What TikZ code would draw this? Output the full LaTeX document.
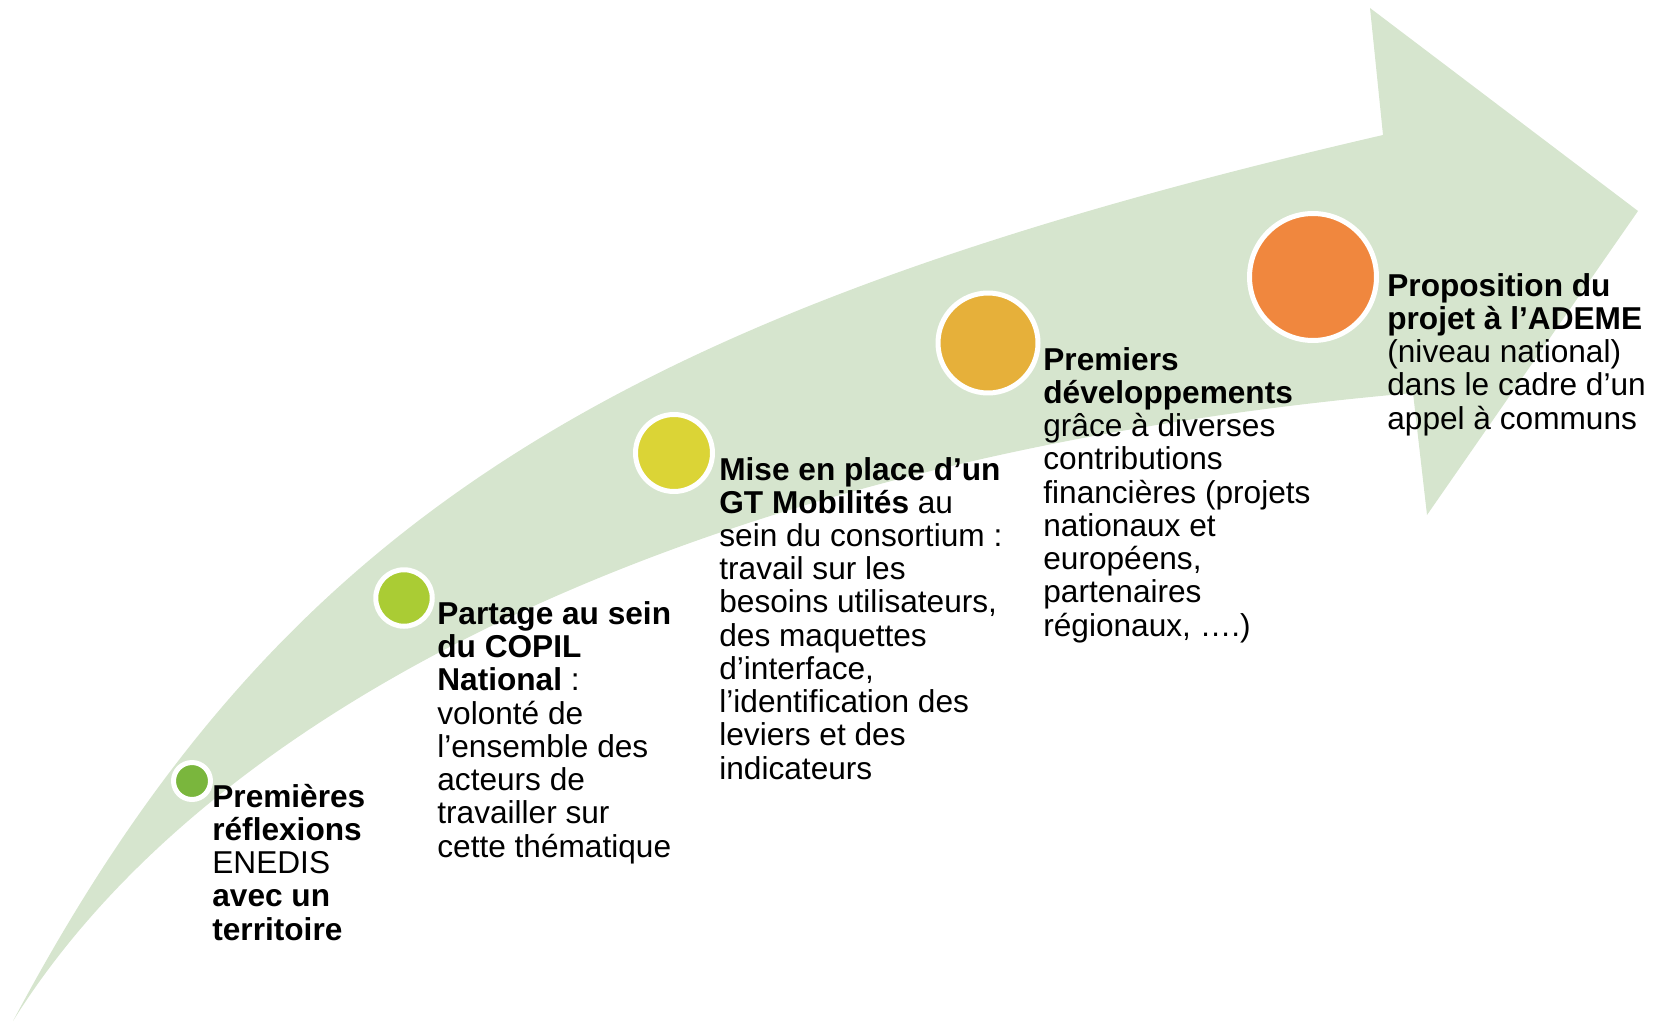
\documentclass[tikz,border=0pt]{standalone}
\usepackage{fontspec}
\setmainfont{Liberation Sans}
\usepackage{xcolor}
\definecolor{ArrowBg}{RGB}{214, 229, 206}
\definecolor{StepA}{RGB}{122, 182, 61}
\definecolor{StepB}{RGB}{170, 204, 52}
\definecolor{StepC}{RGB}{219, 212, 54}
\definecolor{StepD}{RGB}{230, 176, 58}
\definecolor{StepE}{RGB}{240, 135, 62}

\begin{document}
\begin{tikzpicture}[x=0.02cm, y=-0.02cm,
            milestone/.style={circle, draw=white, line width=0.1cm, inner sep=0pt},
            caption/.style={anchor=base west, align=left, inner sep=0pt, font=\fontsize{18}{18.9}\selectfont}
        ]
            \useasboundingbox (0,0) rectangle (1660,1024);
            % curved arrow
            \fill[ArrowBg] (13,1021) .. controls (276,527) and (604,315) .. (1383,135)
                -- (1370,8) -- (1638,211) -- (1427,515) -- (1413,393)
                .. controls (716,454) and (214,699) .. (13,1021) -- cycle;
            % milestones
            \node[milestone, fill=StepA, minimum size=0.74cm] (c1) at (192,781) {};
            \node[milestone, fill=StepB, minimum size=1.13cm] (c2) at (404,598) {};
            \node[milestone, fill=StepC, minimum size=1.54cm] (c3) at (674,453) {};
            \node[milestone, fill=StepD, minimum size=2.0cm] (c4) at (988,343) {};
            \node[milestone, fill=StepE, minimum size=2.54cm] (c5) at (1313,277) {};
            % captions (anchored on the baseline of their last line)
            \node[caption] (t1) at (212,940) {\textbf{Premières}\\\textbf{réflexions}\\ENEDIS\\\textbf{avec un}\\\textbf{territoire}};
            \node[caption] (t2) at (437,857) {\textbf{Partage au sein}\\\textbf{du COPIL}\\\textbf{National} :\\volonté de\\l’ensemble des\\acteurs de\\travailler sur\\cette thématique};
            \node[caption] (t3) at (719,779) {\textbf{Mise en place d’un}\\\textbf{GT Mobilités} au\\sein du consortium :\\travail sur les\\besoins utilisateurs,\\des maquettes\\d’interface,\\l’identification des\\leviers et des\\indicateurs};
            \node[caption] (t4) at (1043,636) {\textbf{Premiers}\\\textbf{développements}\\grâce à diverses\\contributions\\financières (projets\\nationaux et\\européens,\\partenaires\\régionaux, ….)};
            \node[caption] (t5) at (1387,429) {\textbf{Proposition du}\\\textbf{projet à l’ADEME}\\(niveau national)\\dans le cadre d’un\\appel à communs};
        \end{tikzpicture}
\end{document}
